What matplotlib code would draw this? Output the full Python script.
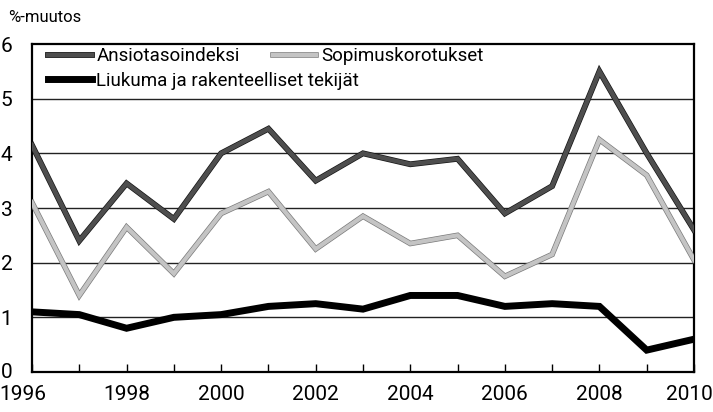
import matplotlib
matplotlib.use("Agg")
import matplotlib.pyplot as plt
import matplotlib.patheffects as pe
from matplotlib.transforms import ScaledTranslation

years = list(range(1996, 2011))
ansiotaso = [4.15, 2.4, 3.45, 2.8, 4.0, 4.45, 3.5, 4.0, 3.8, 3.9, 2.9, 3.4, 5.5, 4.0, 2.6]
sopimus = [3.1, 1.4, 2.65, 1.8, 2.9, 3.3, 2.25, 2.85, 2.35, 2.5, 1.75, 2.15, 4.25, 3.6, 2.05]
liukuma = [1.1, 1.05, 0.8, 1.0, 1.05, 1.2, 1.25, 1.15, 1.4, 1.4, 1.2, 1.25, 1.2, 0.4, 0.6]
xticks = [1996, 1998, 2000, 2002, 2004, 2006, 2008, 2010]
yticks = [0, 1, 2, 3, 4, 5, 6]

plt.rcParams['font.family'] = ['Roboto', 'DejaVu Sans']

fig = plt.figure(figsize=(7.13, 4.12), dpi=100)
ax = fig.add_axes([32/713, 1-372/412, (694-32)/713, (372-44)/412])

for y in yticks[1:-1]:
    ax.axhline(y, color='#222222', lw=1.0, zorder=1)

l1, = ax.plot(years, ansiotaso, color='#4e4e4e', lw=3.2, solid_joinstyle='miter', zorder=3,
              path_effects=[pe.Stroke(linewidth=4.2, foreground='#151515'), pe.Normal()])
l2, = ax.plot(years, sopimus, color='#c4c4c4', lw=3.0, solid_joinstyle='miter', zorder=3,
              path_effects=[pe.Stroke(linewidth=4.0, foreground='#7a7a7a'), pe.Normal()])
l3, = ax.plot(years, liukuma, color='black', lw=5.0, solid_joinstyle='miter', zorder=4)

ax.set_xlim(1996, 2010)
ax.set_ylim(0, 6)
ax.set_xticks(range(1996, 2011))
ax.set_xticklabels([str(y) if y in xticks else '' for y in range(1996, 2011)])
ax.set_yticks(yticks)
ax.tick_params(axis='x', direction='in', length=6, width=1, labelsize=15, pad=9)
ax.tick_params(axis='y', length=0, labelsize=15, pad=14)
for s in ax.spines.values():
    s.set_linewidth(1.6)
    s.set_color('black')

# keep the end year labels inside the figure
labs = ax.get_xticklabels()
labs[0].set_transform(labs[0].get_transform() + ScaledTranslation(-9/100, 0, fig.dpi_scale_trans))
labs[-1].set_transform(labs[-1].get_transform() + ScaledTranslation(-5/100, 0, fig.dpi_scale_trans))
ylabs = ax.get_yticklabels()
ylabs[0].set_transform(ylabs[0].get_transform() + ScaledTranslation(0, 2/100, fig.dpi_scale_trans))

leg1 = ax.legend([l1, l2], ['Ansiotasoindeksi', 'Sopimuskorotukset'], ncol=2, frameon=False,
                 loc='upper left', bbox_to_anchor=(0.005, 1.03), fontsize=13.5,
                 handlelength=2.3, handletextpad=0.25, columnspacing=1.8, borderaxespad=0.3)
ax.add_artist(leg1)
ax.legend([l3], ['Liukuma ja rakenteelliset tekijät'], frameon=False,
          loc='upper left', bbox_to_anchor=(0.005, 0.955), fontsize=13.5,
          handlelength=2.3, handletextpad=0.25, borderaxespad=0.3)

fig.text(8/713, 1-18/412, '%-muutos', fontsize=12, va='center', ha='left')

fig.savefig('out.png', dpi=100)
